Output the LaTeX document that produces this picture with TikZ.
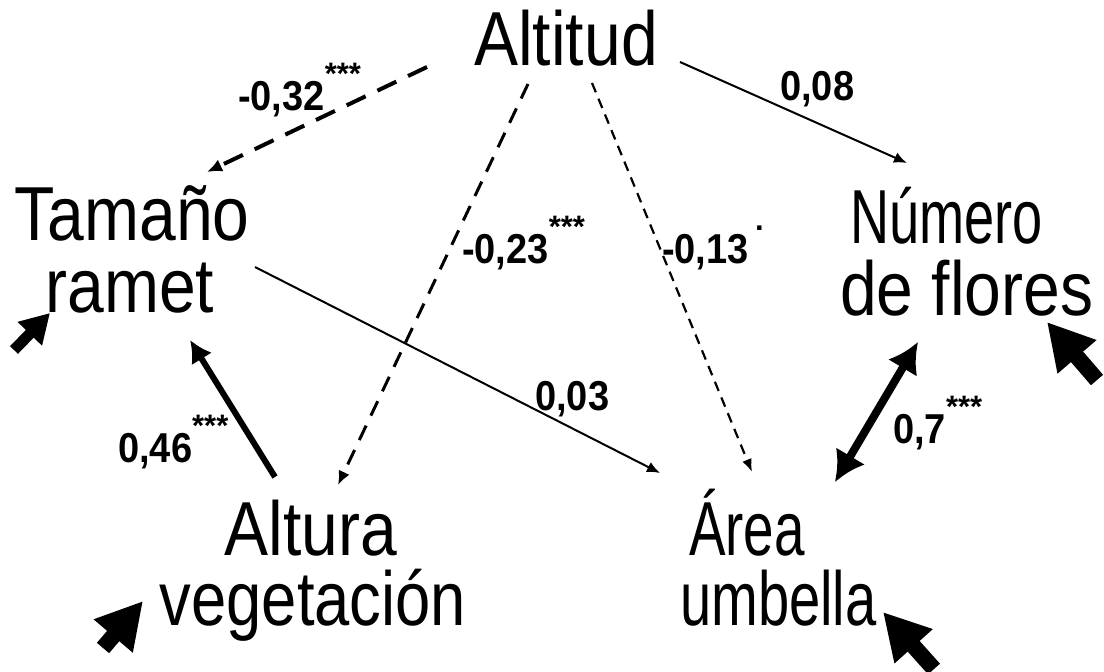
\documentclass[tikz,border=0pt]{standalone}
\usepackage{fontspec}
\usepackage{graphicx}
\setmainfont{Liberation Sans}
\usetikzlibrary{arrows.meta}
% raised significance marks
\newcommand{\signif}[2][26pt]{\raisebox{#1}{\fontsize{31}{31}\selectfont #2}}
% variable names, stretched upward: #1 = horizontal factor
\newcommand{\lbl}[2][1]{\scalebox{#1}[1.16]{#2}}
% path coefficients, slightly stretched upward
\newcommand{\coeftxt}[1]{\scalebox{1}[1.1]{#1}}
\begin{document}
\begin{tikzpicture}[x=1pt,y=-1pt,
  var/.style={font=\fontsize{66}{66}\selectfont, inner sep=0pt, anchor=base},
  coef/.style={font=\fontsize{38}{38}\selectfont\bfseries, inner sep=0pt, anchor=base west},
  thinpath/.style={line width=2pt, -{Latex[length=13pt,width=11pt]}},
  dashA/.style={line width=4pt, dash pattern=on 21pt off 13pt, -{Latex[length=15pt,width=13pt]}},
  dashB/.style={line width=3pt, dash pattern=on 16pt off 11pt, -{Latex[length=14pt,width=12pt]}},
  dashC/.style={line width=2.2pt, dash pattern=on 10pt off 7pt, -{Latex[length=13pt,width=10pt]}},
  boldpath/.style={line width=6pt, -{Latex[length=22pt,width=24pt]}},
  doublepath/.style={line width=8pt, {Latex[length=30pt,width=34pt]}-{Latex[length=30pt,width=34pt]}},
  residual/.style={line width=#1, -{Triangle[length=46pt,width=48pt]}},
  residual/.default=16pt]
\useasboundingbox (0,0) rectangle (1104,672);

% variables
\node[var] (alt) at (566,65) {\lbl{Altitud}};
\node[var] (tam1) at (132,240) {\lbl{Tamaño}};
\node[var] (tam2) at (130,312) {\lbl{ramet}};
\node[var,anchor=base west] (num1) at (850,243) {\lbl[0.82]{Número}};
\node[var,anchor=base west] (num2) at (840,315) {\lbl{de flores}};
\node[var] (alu1) at (311,555) {\lbl{Altura}};
\node[var] (alu2) at (313,625) {\lbl[0.96]{vegetación}};
\node[var,anchor=base west] (are1) at (689,555) {\lbl[0.83]{Área}};
\node[var,anchor=base west] (are2) at (680,625) {\lbl[0.85]{umbella}};

% connector end points
\coordinate (altA) at (427,67);   \coordinate (tamA) at (207,172);
\coordinate (altB) at (528,84);   \coordinate (aluB) at (338,485);
\coordinate (altC) at (592,83);   \coordinate (areC) at (752,472);
\coordinate (altD) at (680,62);   \coordinate (numD) at (907,163);
\coordinate (tamE) at (255,267);  \coordinate (areE) at (660,473);
\coordinate (aluF) at (275,477);  \coordinate (tamF) at (190,340);
\coordinate (areG) at (835,482);  \coordinate (numG) at (918,342);

% residual arrows
\coordinate (rtamT) at (14,350);   \coordinate (rtamH) at (50,313);
\coordinate (raluT) at (103,648);  \coordinate (raluH) at (143,601);
\coordinate (rareT) at (934,669);  \coordinate (rareH) at (883,612);
\coordinate (rnumT) at (1097,380); \coordinate (rnumH) at (1047,322);

% paths
\draw[dashA] (altA) -- (tamA);
\draw[dashB] (altB) -- (aluB);
\draw[dashC] (altC) -- (areC);
\draw[thinpath] (altD) -- (numD);
\draw[thinpath] (tamE) -- (areE);
\draw[boldpath] (aluF) -- (tamF);
\draw[doublepath] (areG) -- (numG);

\draw[line width=11pt, -{Triangle[length=29pt,width=32pt]}] (rtamT) -- (rtamH);
\draw[residual] (raluT) -- (raluH);
\draw[residual] (rareT) -- (rareH);
\draw[residual] (rnumT) -- (rnumH);

% coefficients
\node[coef] (c32) at (238,110) {\coeftxt{-0,32}\signif{***}};
\node[coef] (c23) at (462,263) {\coeftxt{-0,23}\signif{***}};
\node[coef] (c13) at (662,263) {\coeftxt{-0,13}\,\signif[33pt]{.}};
\node[coef] (c08) at (780,100) {\coeftxt{0,08}};
\node[coef] (c03) at (535,410) {\coeftxt{0,03}};
\node[coef] (c46) at (118,462) {\coeftxt{0,46}\signif{***}};
\node[coef] (c7) at (893,443) {\coeftxt{0,7}\signif{***}};
\end{tikzpicture}
\end{document}
